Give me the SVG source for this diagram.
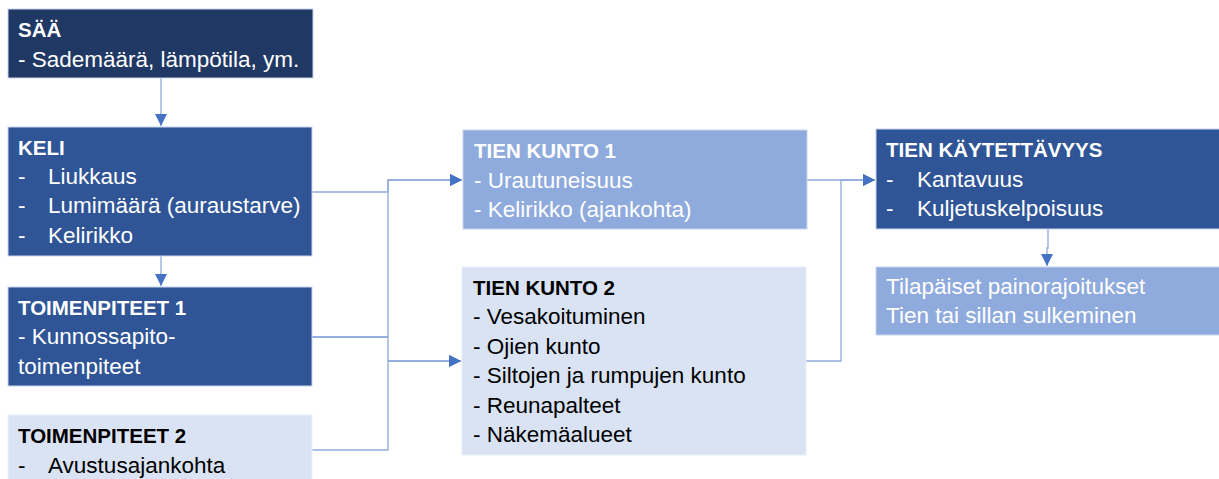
<svg xmlns="http://www.w3.org/2000/svg" width="1219" height="479" viewBox="0 0 1219 479">
<defs>
<style>
text{font-family:"Liberation Sans",Arial,sans-serif;font-size:22.5px}
.t{font-weight:bold;font-size:20.5px}
.w{fill:#ffffff}
.k{fill:#000000}
.dark{fill:#1F3864;stroke:#C9D5EC;stroke-width:1}
.mid{fill:#2F5597;stroke:#C9D5EC;stroke-width:1}
.lt{fill:#8FAADC;stroke:#C9D5EC;stroke-width:1}
.pale{fill:#DAE3F3;stroke:#E8EEF8;stroke-width:1}
.c{fill:none;stroke:#8FAADC;stroke-width:1.3}
</style>
<marker id="ah" viewBox="0 0 10 10" refX="10" refY="5" markerWidth="12" markerHeight="13" markerUnits="userSpaceOnUse" orient="auto">
<path d="M0,0 L10,5 L0,10 z" fill="#4472C4"/>
</marker>
</defs>
<rect width="1219" height="479" fill="#ffffff"/>
<g id="connectors">
<path class="c" d="M161,78 V126" marker-end="url(#ah)"/>
<path class="c" d="M161,256 V286" marker-end="url(#ah)"/>
<path class="c" d="M312,192 H388 V180 H462" marker-end="url(#ah)"/>
<path class="c" d="M312,337 H388 V180 H462" marker-end="url(#ah)"/>
<path class="c" d="M312,337 H388 V361 H461" marker-end="url(#ah)"/>
<path class="c" d="M312,450 H388 V361 H461" marker-end="url(#ah)"/>
<path class="c" d="M807,180 H841 V180 H875" marker-end="url(#ah)"/>
<path class="c" d="M806,361 H841 V180 H875" marker-end="url(#ah)"/>
<path class="c" d="M1048,229 V248 H1047 V266" marker-end="url(#ah)"/>
</g>
<g id="saa">
<rect class="dark" x="8" y="9" width="305" height="69"/>
<text class="t w" x="18" y="37">SÄÄ</text>
<text class="w" x="18" y="67">- Sademäärä, lämpötila, ym.</text>
</g>
<g id="keli">
<rect class="mid" x="8" y="127" width="304" height="129"/>
<text class="t w" x="18" y="155">KELI</text>
<text class="w" x="18" y="184">-</text><text class="w" x="48" y="184">Liukkaus</text>
<text class="w" x="18" y="213">-</text><text class="w" x="48" y="213">Lumimäärä (auraustarve)</text>
<text class="w" x="18" y="243">-</text><text class="w" x="48" y="243">Kelirikko</text>
</g>
<g id="toimenpiteet1">
<rect class="mid" x="8" y="287" width="304" height="99"/>
<text class="t w" x="18" y="315">TOIMENPITEET 1</text>
<text class="w" x="18" y="344">- Kunnossapito-</text>
<text class="w" x="18" y="374">toimenpiteet</text>
</g>
<g id="toimenpiteet2">
<rect class="pale" x="8" y="415" width="304" height="70"/>
<text class="t k" x="18" y="443">TOIMENPITEET 2</text>
<text class="k" x="18" y="473">-</text><text class="k" x="48" y="473">Avustusajankohta</text>
</g>
<g id="tienkunto1">
<rect class="lt" x="463" y="130" width="344" height="99"/>
<text class="t w" x="474" y="158">TIEN KUNTO 1</text>
<text class="w" x="474" y="188">- Urautuneisuus</text>
<text class="w" x="474" y="217">- Kelirikko (ajankohta)</text>
</g>
<g id="tienkunto2">
<rect class="pale" x="462" y="267" width="344" height="188"/>
<text class="t k" x="473" y="295">TIEN KUNTO 2</text>
<text class="k" x="473" y="324">- Vesakoituminen</text>
<text class="k" x="473" y="354">- Ojien kunto</text>
<text class="k" x="473" y="383">- Siltojen ja rumpujen kunto</text>
<text class="k" x="473" y="413">- Reunapalteet</text>
<text class="k" x="473" y="442">- Näkemäalueet</text>
</g>
<g id="kaytettavyys">
<rect class="mid" x="876" y="129" width="344" height="100"/>
<text class="t w" x="886" y="157">TIEN KÄYTETTÄVYYS</text>
<text class="w" x="886" y="187">-</text><text class="w" x="917" y="187">Kantavuus</text>
<text class="w" x="886" y="216">-</text><text class="w" x="917" y="216">Kuljetuskelpoisuus</text>
</g>
<g id="rajoitukset">
<rect class="lt" x="876" y="267" width="344" height="68"/>
<text class="w" x="886" y="294">Tilapäiset painorajoitukset</text>
<text class="w" x="886" y="323">Tien tai sillan sulkeminen</text>
</g>
</svg>
